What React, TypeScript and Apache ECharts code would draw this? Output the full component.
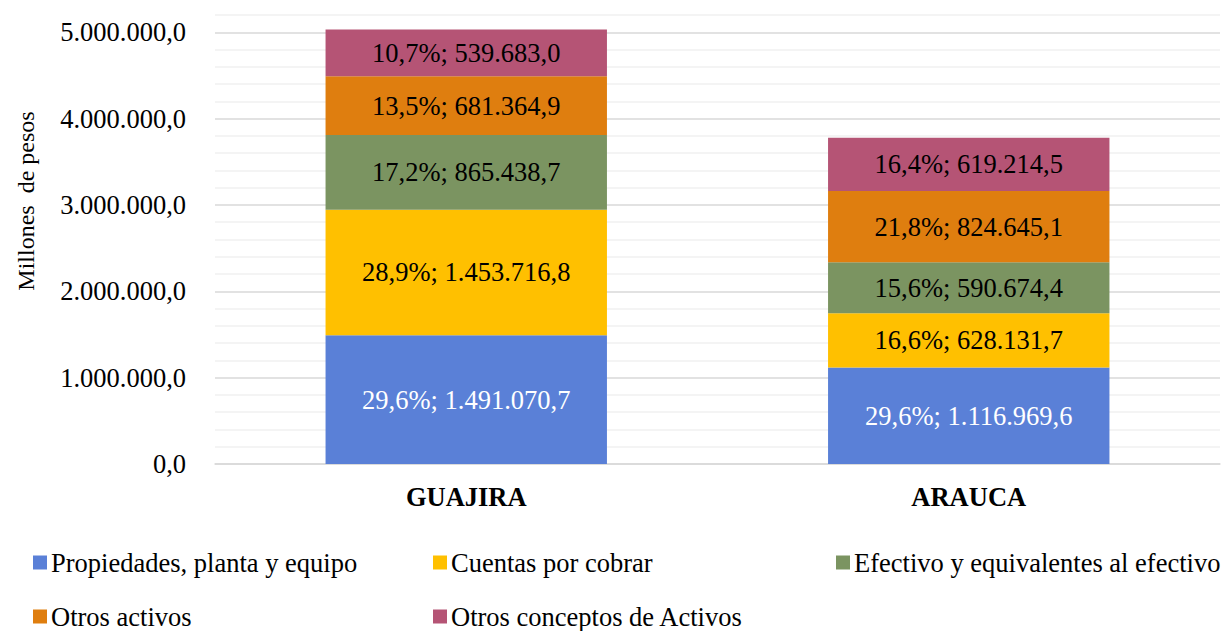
import React, { useEffect, useRef } from "react";
import * as echarts from "echarts";

const categories = ["GUAJIRA", "ARAUCA"];
const seriesNames = [
  "Propiedades, planta y equipo",
  "Cuentas por cobrar",
  "Efectivo y equivalentes al efectivo",
  "Otros activos",
  "Otros conceptos de Activos",
];
const propiedades = [1491070.7, 1116969.6];
const cuentas = [1453716.8, 628131.7];
const efectivo = [865438.7, 590674.4];
const otrosActivos = [681364.9, 824645.1];
const otrosConceptos = [539683.0, 619214.5];

const propiedadesPct = [29.6, 29.6];
const cuentasPct = [28.9, 16.6];
const efectivoPct = [17.2, 15.6];
const otrosActivosPct = [13.5, 21.8];
const otrosConceptosPct = [10.7, 16.4];

const yAxisTitle = "Millones  de pesos";

const colors = ["#5A80D7", "#FFC000", "#7B9461", "#DF7E0F", "#B55475"];
const labelColors = ["#ffffff", "#000000", "#000000", "#000000", "#000000"];

const FONT = "'Liberation Serif', 'Times New Roman', serif";
const FS = 26.5;

function fmt(v: number, dec: number): string {
  const fixed = Math.abs(v).toFixed(dec);
  const [intPart, decPart] = fixed.split(".");
  const withSep = intPart.replace(/\B(?=(\d{3})+(?!\d))/g, ".");
  return (v < 0 ? "-" : "") + withSep + (decPart !== undefined ? "," + decPart : "");
}

export default function App() {
  const ref = useRef<HTMLDivElement>(null);
  useEffect(() => {
    if (!ref.current) return;
    const chart = echarts.init(ref.current, undefined, { renderer: "svg" });
    const values = [propiedades, cuentas, efectivo, otrosActivos, otrosConceptos];
    const pcts = [propiedadesPct, cuentasPct, efectivoPct, otrosActivosPct, otrosConceptosPct];
    const legendPos = [
      { left: 33, top: 549 },
      { left: 433, top: 549 },
      { left: 836, top: 549 },
      { left: 33, top: 603 },
      { left: 433, top: 603 },
    ];
    chart.setOption({
      animation: false,
      textStyle: { fontFamily: FONT },
      grid: {
        left: 215,
        right: 2,
        top: 15,
        bottom: 167,
        containLabel: false,
        outerBoundsMode: "none",
      },
      graphic: [
        {
          type: "text",
          x: 26,
          y: 201,
          rotation: Math.PI / 2,
          style: {
            text: yAxisTitle,
            fontFamily: FONT,
            fontSize: 24,
            fill: "#000",
            align: "center",
            verticalAlign: "middle",
          },
        },
      ],
      legend: seriesNames.map((n, i) => ({
        data: [n],
        left: legendPos[i].left,
        top: legendPos[i].top,
        itemWidth: 14,
        itemHeight: 14,
        itemGap: 0,
        padding: 0,
        icon: "rect",
        textStyle: { fontFamily: FONT, fontSize: FS, color: "#000", padding: [0, 0, 0, -1] },
        selectedMode: false,
      })),
      xAxis: {
        type: "category",
        data: categories,
        axisLine: { show: true, lineStyle: { color: "#d9d9d9", width: 1.5 } },
        axisTick: { show: false },
        axisLabel: {
          fontFamily: FONT,
          fontSize: FS,
          fontWeight: "bold",
          color: "#000",
          margin: 19,
        },
      },
      yAxis: {
        type: "value",
        min: 0,
        max: 5200000,
        interval: 200000,
        axisLine: { show: false },
        axisTick: { show: false },
        axisLabel: {
          fontFamily: FONT,
          fontSize: FS,
          color: "#000",
          margin: 29,
          formatter: (v: number) => (Math.round(v) % 1000000 === 0 ? fmt(v, 1) : ""),
        },
        splitLine: {
          show: true,
          lineStyle: {
            color: ["#d9d9d9", "#f0f0f0", "#f0f0f0", "#f0f0f0", "#f0f0f0"],
            width: 1.5,
          },
        },
      },
      series: seriesNames.map((n, i) => ({
        name: n,
        type: "bar",
        stack: "total",
        barWidth: "56%",
        itemStyle: { color: colors[i] },
        label: {
          show: true,
          position: "inside",
          fontFamily: FONT,
          fontSize: FS,
          color: labelColors[i],
          formatter: (p: any) =>
            fmt(pcts[i][p.dataIndex], 1) + "%; " + fmt(values[i][p.dataIndex], 1),
        },
        data: values[i],
      })),
    });
    return () => chart.dispose();
  }, []);
  return (
    <div
      ref={ref}
      style={{ position: "absolute", left: 0, top: 0, width: 1222, height: 631, background: "#fff" }}
    />
  );
}
